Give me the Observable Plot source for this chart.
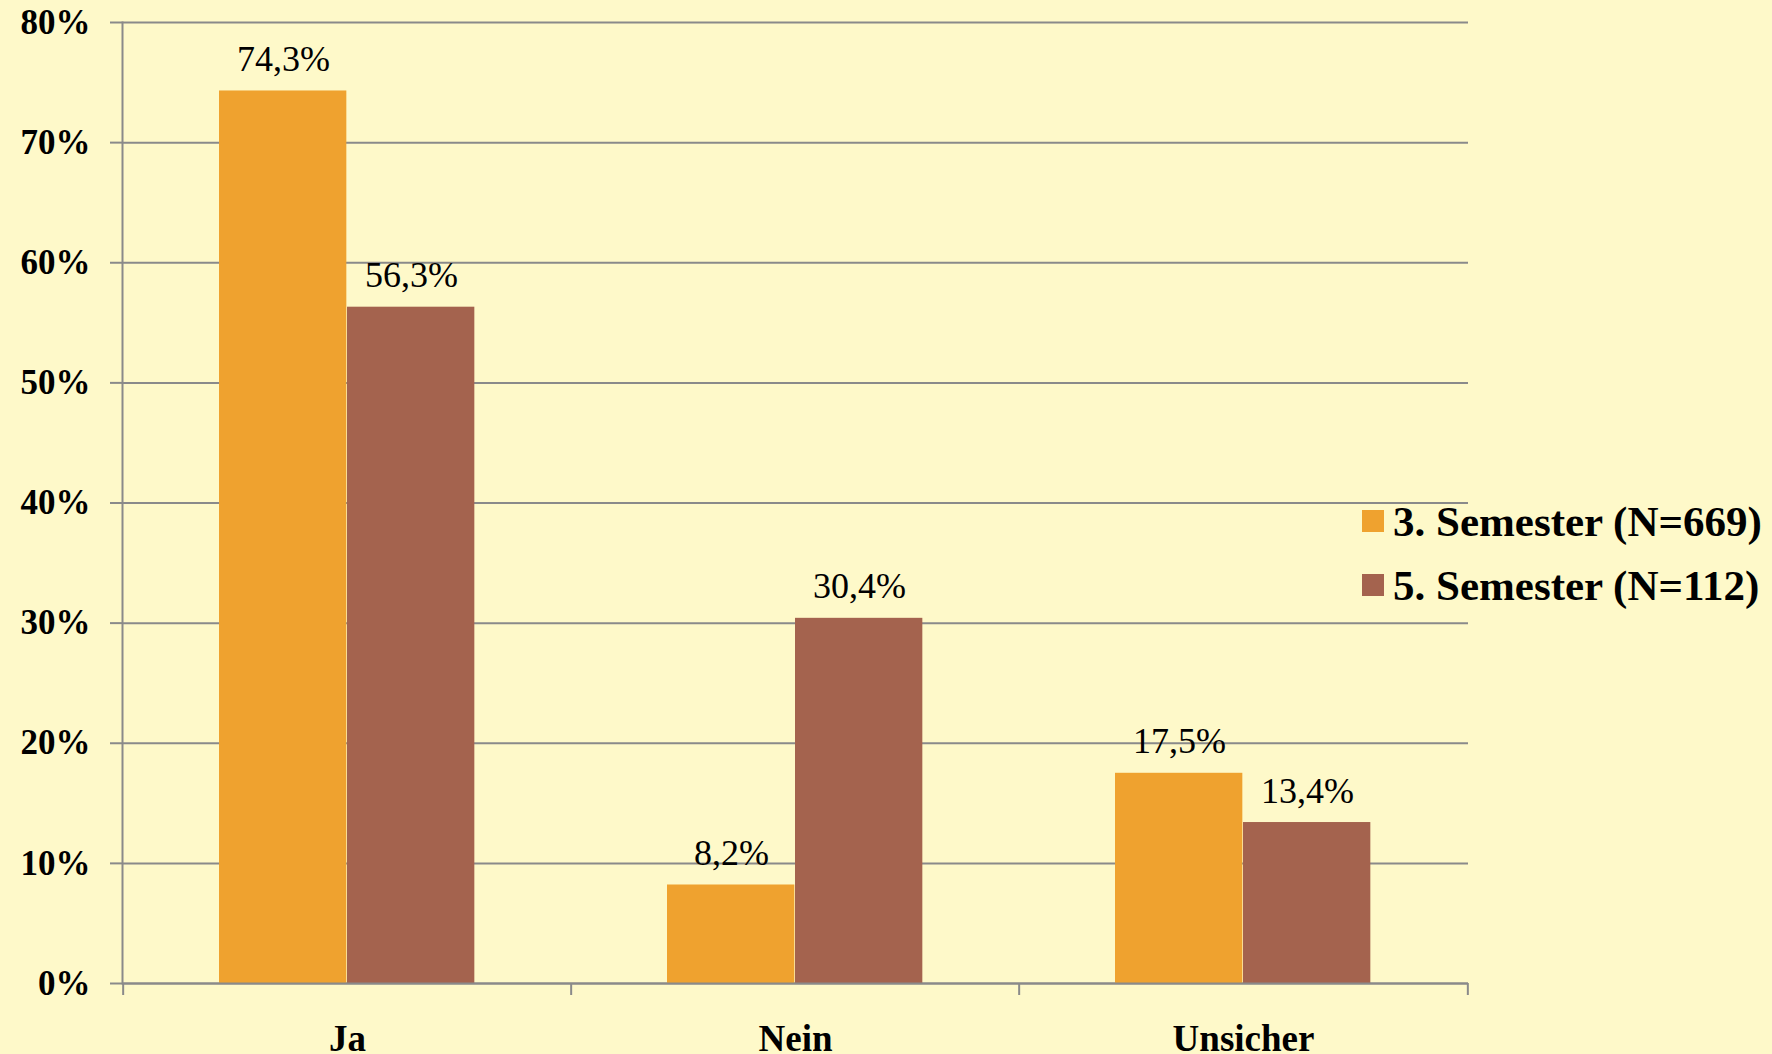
<!DOCTYPE html>
<html>
<head>
<meta charset="utf-8">
<script src="https://cdn.jsdelivr.net/npm/d3@7"></script>
<script src="https://cdn.jsdelivr.net/npm/@observablehq/plot@0.6"></script>
<style>
  html, body { margin: 0; padding: 0; background: #FEF9C9; }
  #wrap { position: relative; width: 1772px; height: 1054px; overflow: hidden;
          font-family: "Liberation Serif", "Times New Roman", serif; background: #FEF9C9; }
  #chart { position: absolute; left: 0; top: 0; }
  .legend-item { position: absolute; left: 1362px; display: flex; align-items: center;
                 height: 50px; font-size: 43px; font-weight: bold; color: #000; white-space: nowrap; }
  .swatch { width: 22px; height: 22px; margin-right: 9px; }
</style>
</head>
<body>
<div id="wrap">
  <div id="chart"></div>
</div>
<script>
const categories = ["Ja", "Nein", "Unsicher"];
const seriesNames = ["3. Semester (N=669)", "5. Semester (N=112)"];
const sem3 = [74.3, 8.2, 17.5];
const sem5 = [56.3, 30.4, 13.4];
const yTicks = [0, 10, 20, 30, 40, 50, 60, 70, 80];
const colors = ["#EFA22F", "#A4634E"];

const rows3 = categories.map((c, i) => ({category: c, series: seriesNames[0], value: sem3[i]}));
const rows5 = categories.map((c, i) => ({category: c, series: seriesNames[1], value: sem5[i]}));

const W = 1772, H = 1054, mL = 122, mR = 304, mT = 22, mB = 71;
const band = (W - mL - mR) / categories.length;
const gray = "#8a8a8a";
const fmt = v => v.toFixed(1).replace(".", ",") + "%";

const chart = Plot.plot({
  width: W, height: H,
  marginLeft: mL, marginRight: mR, marginTop: mT, marginBottom: mB,
  style: {background: "transparent", color: "#000", fontFamily: "'Liberation Serif', 'Times New Roman', serif", overflow: "visible"},
  x: {domain: categories, padding: 0, label: null},
  y: {domain: [0, 80], label: null},
  color: {domain: seriesNames, range: colors},
  marks: [
    Plot.gridY(yTicks, {stroke: gray, strokeOpacity: 1, strokeWidth: 2}),
    Plot.axisY(yTicks, {label: null, tickSize: 12, tickPadding: 20, tickFormat: d => d + "%", fontSize: 35, fontWeight: "bold",
      stroke: gray, strokeWidth: 2, strokeOpacity: 1, fill: "#000"}),
    Plot.frame({anchor: "left", stroke: gray, strokeWidth: 2, strokeOpacity: 1}),
    Plot.axisX({label: null, tickSize: 12, tickFormat: () => "", dx: -band / 2, stroke: gray, strokeWidth: 2, strokeOpacity: 1}),
    Plot.axisX({label: null, ticks: [categories[categories.length - 1]], tickSize: 12, tickFormat: () => "", dx: band / 2, stroke: gray, strokeWidth: 2, strokeOpacity: 1}),
    Plot.axisX({label: null, tickSize: 0, tickPadding: 41, fontSize: 37, fontWeight: "bold", fill: "#000"}),
    Plot.barY(rows3, {x: "category", y: "value", fill: "series", insetLeft: 96, insetRight: band - 96 - 128}),
    Plot.barY(rows5, {x: "category", y: "value", fill: "series", insetLeft: 96 + 128, insetRight: band - 96 - 256}),
    Plot.ruleY([0], {stroke: gray, strokeWidth: 2}),
    Plot.text(rows3, {x: "category", y: "value", text: d => fmt(d.value), dx: -64, dy: -20, lineAnchor: "bottom", fontSize: 36, fill: "#000"}),
    Plot.text(rows5, {x: "category", y: "value", text: d => fmt(d.value), dx: 64, dy: -20, lineAnchor: "bottom", fontSize: 36, fill: "#000"})
  ]
});
document.getElementById("chart").appendChild(chart);

const wrap = document.getElementById("wrap");
const legendTops = [496, 560];
seriesNames.forEach((name, i) => {
  const item = document.createElement("div");
  item.className = "legend-item";
  item.style.top = legendTops[i] + "px";
  const sw = document.createElement("span");
  sw.className = "swatch";
  sw.style.background = colors[i];
  const label = document.createElement("span");
  label.textContent = name;
  item.appendChild(sw);
  item.appendChild(label);
  wrap.appendChild(item);
});
</script>
</body>
</html>
